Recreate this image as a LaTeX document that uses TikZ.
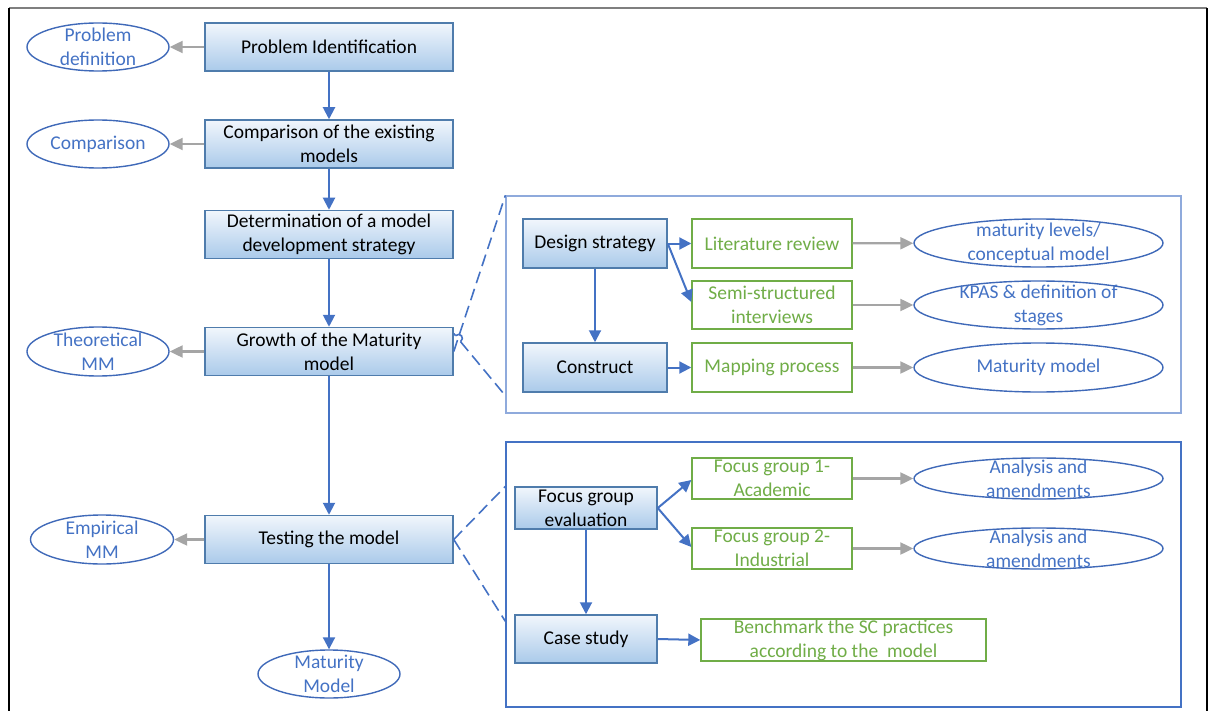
\documentclass[tikz,border=0pt]{standalone}
\usepackage{fontspec}
\setmainfont{Carlito}
\usetikzlibrary{arrows.meta,calc,shapes.geometric}

\definecolor{boxedge}{HTML}{4F7CAC}
\definecolor{boxtop}{HTML}{F1F6FC}
\definecolor{boxbot}{HTML}{AACAEA}
\definecolor{flowblue}{HTML}{4472C4}
\definecolor{ovalblue}{HTML}{3F69B8}
\definecolor{outgray}{HTML}{A5A5A5}
\definecolor{stepgreen}{HTML}{70AD47}
\definecolor{lightpanel}{HTML}{8FAADC}
\definecolor{framegray}{HTML}{7F7F7F}

\begin{document}
\begin{tikzpicture}[x=1pt,y=-1pt,
  font=\fontsize{19.5}{24}\selectfont,
  stage/.style={draw=boxedge, line width=1.5pt, top color=boxtop, bottom color=boxbot,
    align=center, inner sep=0pt, minimum height=48pt, text=black},
  activity/.style={draw=stepgreen, line width=1.4pt, fill=white, align=center,
    inner sep=0pt, minimum width=160pt, text=stepgreen},
  outcome/.style={draw=ovalblue, line width=1.4pt, ellipse, inner sep=0pt},
  otext/.style={text=flowblue, align=center, inner sep=0pt},
  panel/.style={draw, line width=1.3pt, inner sep=0pt},
  flow/.style={draw=flowblue, line width=2pt, -{Triangle[length=12pt,width=12pt]}},
  result/.style={draw=outgray, line width=2.2pt, -{Triangle[length=13pt,width=12pt]}},
  zoomline/.style={draw=flowblue, line width=1.6pt, dash pattern=on 12pt off 6pt}
]
\useasboundingbox (0,0) rectangle (1214,711);

% page frame
\draw[framegray, line width=1.8pt] (9,8) -- (1207,8);
\draw[black, line width=1.4pt] (9,8) -- (9,712);
\draw[black, line width=1.4pt] (1207,8) -- (1207,712);

% main sequence of stages
\node[stage, minimum width=248pt] (pi)  at (329,47)    {Problem Identification};
\node[stage, minimum width=248pt] (cmp) at (329,144)   {Comparison of the existing\\models};
\node[stage, minimum width=248pt] (det) at (329,234.5) {Determination of a model\\development strategy};
\node[stage, minimum width=248pt] (gro) at (329,351.5) {Growth of the Maturity\\model};
\node[stage, minimum width=248pt] (tst) at (329,539.5) {Testing the model};

% outputs on the left
\node[outcome, minimum width=142pt, minimum height=48pt, label={[otext]center:Problem\\definition}] (pd) at (98,47) {};
\node[outcome, minimum width=142pt, minimum height=48pt, label={[otext]center:Comparison}] (cm) at (98,144) {};
\node[outcome, minimum width=142pt, minimum height=49pt, label={[otext]center:Theoretical\\MM}] (th) at (98,351.5) {};
\node[outcome, minimum width=143pt, minimum height=49pt, label={[otext]center:Empirical\\MM}] (em) at (102,539.5) {};
\node[outcome, minimum width=142pt, minimum height=48pt, label={[otext]center:Maturity\\Model}] (mm) at (329,674) {};

\draw[flow] (pi) -- (cmp);
\draw[flow] (cmp) -- (det);
\draw[flow] (det) -- (gro);
\draw[flow] (gro) -- (tst);
\draw[flow] (tst) -- (mm);

\draw[result] (pi) -- (pd);
\draw[result] (cmp) -- (cm);
\draw[result] (gro) -- (th);
\draw[result] (tst) -- (em);

% detail panels
\node[panel, draw=lightpanel, minimum width=675pt, minimum height=217pt] (pA) at (843.5,304.5) {};
\node[panel, draw=flowblue, minimum width=675pt, minimum height=265pt] (pB) at (843.5,574.5) {};

% design panel
\node[stage, minimum width=144pt, minimum height=49pt] (ds)  at (595,243.5) {Design strategy};
\node[stage, minimum width=144pt, minimum height=49pt] (con) at (595,367.5) {Construct};
\node[activity, minimum height=49pt] (lit)  at (772,243.5) {Literature review};
\node[activity, minimum height=48pt] (semi) at (772,305)   {Semi-structured\\interviews};
\node[activity, minimum height=49pt] (map)  at (772,367.5) {Mapping process};
\node[outcome, minimum width=249pt, minimum height=48pt, label={[otext]center:maturity levels/\\conceptual model}] (e1) at (1038.5,243) {};
\node[outcome, minimum width=249pt, minimum height=48pt, label={[otext]center:KPAS \& definition of\\stages}] (e2) at (1038.5,305) {};
\node[outcome, minimum width=249pt, minimum height=49pt, label={[otext]center:Maturity model}] (e3) at (1038.5,367.5) {};

\draw[flow] (ds) -- (lit);
\draw[flow] (ds.east) -- ($(semi.west)+(0,-3)$);
\draw[flow] (ds) -- (con);
\draw[flow] (con) -- (map);
\draw[result] (lit) -- (e1);
\draw[result] (semi) -- (e2);
\draw[result] (map) -- (e3);

% testing panel
\node[stage, minimum width=142pt, minimum height=42pt] (fge) at (586,508) {Focus group\\evaluation};
\node[stage, minimum width=142pt, minimum height=48pt] (cs)  at (586,639) {Case study};
\node[activity, minimum height=41pt] (fg1) at (772,478.5) {Focus group 1-\\Academic};
\node[activity, minimum height=41pt] (fg2) at (772,548.5) {Focus group 2-\\Industrial};
\node[activity, minimum width=285pt, minimum height=42pt] (bm) at (843.5,640) {Benchmark the SC practices\\according to the\ \ model};
\node[outcome, minimum width=249pt, minimum height=41pt, label={[otext]center:Analysis and\\amendments}] (e4) at (1038.5,478.5) {};
\node[outcome, minimum width=249pt, minimum height=41pt, label={[otext]center:Analysis and\\amendments}] (e5) at (1038.5,548.5) {};

\draw[flow] (fge.east) -- ($(fg1.west)+(0,1.5)$);
\draw[flow] (fge.east) -- ($(fg2.west)+(0,-1.5)$);
\draw[flow] (fge) -- (cs);
\draw[flow] (cs.east) -- (bm.west);
\draw[result] (fg1) -- (e4);
\draw[result] (fg2) -- (e5);

% zoom lines from the stages to their panels
\coordinate (gA) at ($(gro.east)+(0,-18)$);
\coordinate (pAlow) at ($(pA.south west)+(0,-18)$);
\coordinate (hopA) at ($(gA)!0.034!(pAlow)$);
\coordinate (hopB) at ($(gA)!0.132!(pAlow)$);
\draw[zoomline] (gro.east) -- (pA.north west);
\draw[zoomline] (gA) -- (hopA);
\draw[flowblue, line width=1.6pt] (hopA) .. controls ($(hopA)!6pt!90:(hopB)$) and ($(hopB)!6pt!-90:(hopA)$) .. (hopB);
\draw[zoomline] (hopB) -- (pAlow);

\draw[zoomline] (tst.east) -- ($(pB.north west)+(0,45)$);
\draw[zoomline] (tst.east) -- ($(pB.north west)+(0,180)$);
\end{tikzpicture}
\end{document}
